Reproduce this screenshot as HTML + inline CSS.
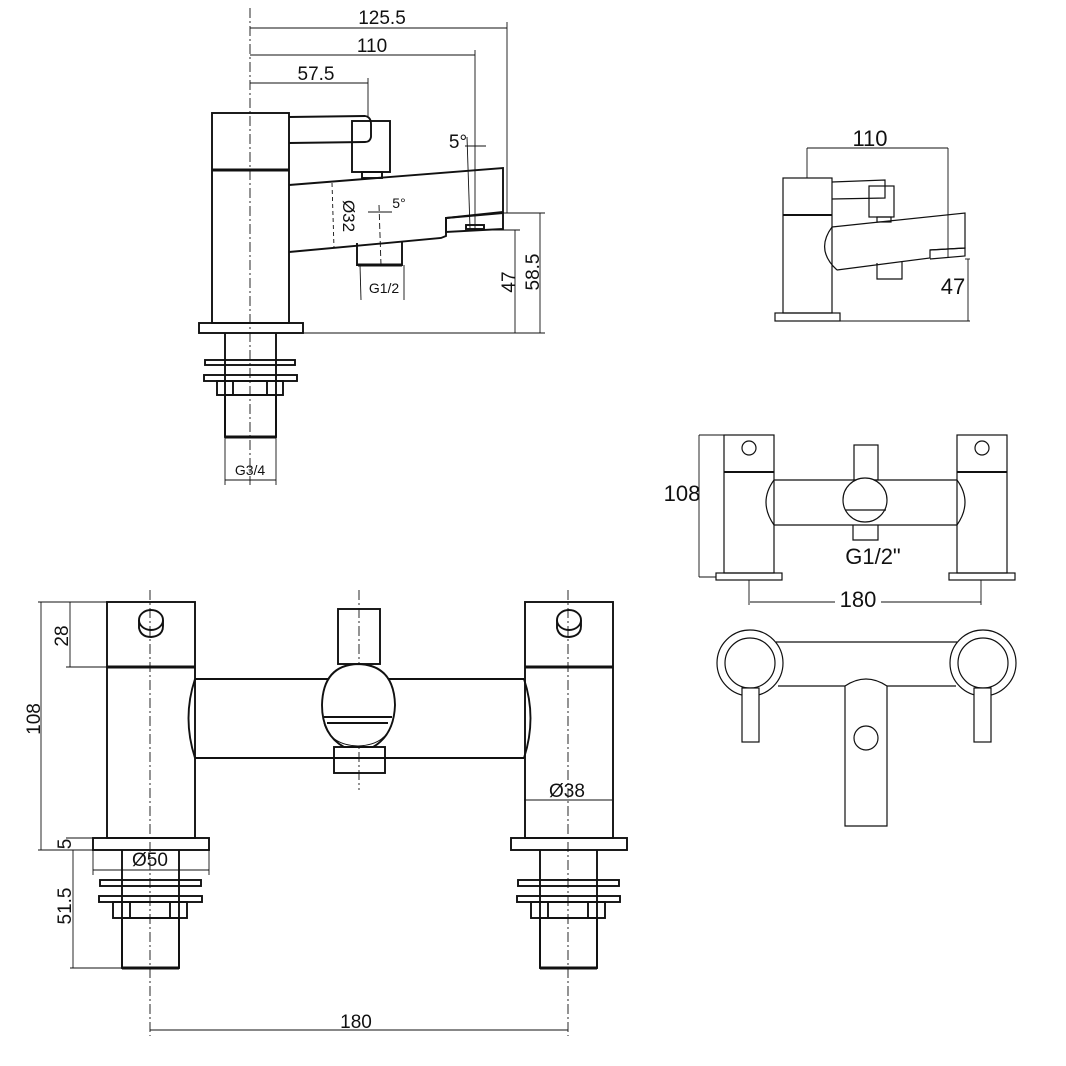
<!DOCTYPE html>
<html><head><meta charset="utf-8"><style>
html,body{margin:0;padding:0;background:#fff}
svg{display:block}
text{font-family:"Liberation Sans",sans-serif;fill:#111}
</style></head><body>
<svg width="1066" height="1066" viewBox="0 0 1066 1066" xmlns="http://www.w3.org/2000/svg">
<g fill="none" stroke="#111" stroke-width="1.9">
<!-- ===== TOP-LEFT SIDE VIEW ===== -->
<line x1="250" y1="8" x2="250" y2="485" stroke-dasharray="10,3,2,3" stroke-width="0.9"/>
<line x1="250" y1="28" x2="507" y2="28" stroke-width="0.9"/>
<line x1="507" y1="22" x2="507" y2="213" stroke-width="0.9"/>
<line x1="250" y1="55" x2="475" y2="55" stroke-width="0.9"/>
<line x1="475" y1="50" x2="475" y2="230" stroke-width="0.9"/>
<line x1="250" y1="83" x2="368" y2="83" stroke-width="0.9"/>
<line x1="368" y1="78" x2="368" y2="118" stroke-width="0.9"/>
<rect x="212" y="113" width="77" height="210"/>
<line x1="212" y1="170" x2="289" y2="170" stroke-width="3"/>
<rect x="199" y="323" width="104" height="10"/>
<path d="M289 117 L365 116 Q371 117 371 124 L371 137 Q370 142 365 142 L289 143"/>
<rect x="352" y="121" width="38" height="51"/>
<rect x="362" y="172" width="20" height="6"/>
<path d="M289 185 L503 168 L503 212 L446 218 L446 236 L441 238 L289 252"/>
<path d="M446 218 L503 213 L503 229 L446 232 Z"/>
<rect x="466" y="225" width="18" height="4"/>
<path d="M357 243 L357 265 L402 265 L402 241"/>
<line x1="358" y1="265" x2="402" y2="265" stroke-width="3"/>
<line x1="332" y1="183" x2="334" y2="248" stroke-dasharray="4,3" stroke-width="0.9"/>
<line x1="379" y1="205" x2="381" y2="265" stroke-dasharray="6,3" stroke-width="0.9"/>
<line x1="368" y1="212" x2="392" y2="212" stroke-width="0.9"/>
<line x1="467" y1="137" x2="470" y2="228" stroke-width="0.9"/>
<line x1="465" y1="146" x2="486" y2="146" stroke-width="0.9"/>
<line x1="360" y1="265" x2="361" y2="300" stroke-width="0.9"/>
<line x1="404" y1="265" x2="404" y2="300" stroke-width="0.9"/>
<line x1="303" y1="333" x2="545" y2="333" stroke-width="0.9"/>
<line x1="503" y1="213" x2="545" y2="213" stroke-width="0.9"/>
<line x1="485" y1="230" x2="520" y2="230" stroke-width="0.9"/>
<line x1="515" y1="230" x2="515" y2="333" stroke-width="0.9"/>
<line x1="540" y1="213" x2="540" y2="333" stroke-width="0.9"/>
<line x1="225" y1="333" x2="225" y2="437"/>
<line x1="276" y1="333" x2="276" y2="437"/>
<rect x="205" y="360" width="90" height="5"/>
<rect x="204" y="375" width="93" height="6"/>
<rect x="217" y="381" width="66" height="14"/>
<line x1="233" y1="381" x2="233" y2="395"/><line x1="267" y1="381" x2="267" y2="395"/>
<rect x="225" y="395" width="51" height="42"/>
<line x1="225" y1="437" x2="276" y2="437" stroke-width="3"/>
<line x1="225" y1="437" x2="225" y2="485" stroke-width="0.9"/>
<line x1="276" y1="437" x2="276" y2="485" stroke-width="0.9"/>
<line x1="225" y1="480" x2="276" y2="480" stroke-width="0.9"/>

<!-- ===== BOTTOM-LEFT FRONT VIEW ===== -->
<line x1="150" y1="590" x2="150" y2="1036" stroke-dasharray="10,3,2,3" stroke-width="0.9"/>
<line x1="568" y1="590" x2="568" y2="1036" stroke-dasharray="10,3,2,3" stroke-width="0.9"/>
<line x1="359" y1="590" x2="359" y2="790" stroke-dasharray="10,3,2,3" stroke-width="0.9"/>
<g id="tapL">
<rect x="107" y="602" width="88" height="236"/>
<line x1="107" y1="667" x2="195" y2="667" stroke-width="3"/>
<rect x="93" y="838" width="116" height="12"/>
<line x1="122" y1="850" x2="122" y2="968"/><line x1="179" y1="850" x2="179" y2="968"/>
<rect x="100" y="880" width="101" height="6"/>
<rect x="99" y="896" width="103" height="6"/>
<rect x="113" y="902" width="74" height="16"/>
<line x1="130" y1="902" x2="130" y2="918"/><line x1="170" y1="902" x2="170" y2="918"/>
<rect x="122" y="918" width="57" height="50"/>
<line x1="122" y1="968" x2="179" y2="968" stroke-width="3"/>
<ellipse cx="151" cy="620" rx="12" ry="10"/>
<path d="M139 620 L139 628 Q141 637 151 637 Q163 636 163 626 L163 620"/>
</g>
<use href="#tapL" transform="translate(418,0)"/>
<path d="M195 679 L524 679 M195 758 L524 758"/>
<path d="M195 679 Q182 718 195 758 M524 679 Q537 718 524 758"/>
<rect x="338" y="609" width="42" height="55"/>
<path d="M344 747 Q322 735 322 705 Q323 665 358 664 Q394 665 395 705 Q394 735 373 747 Z" fill="#fff"/>
<path d="M324 717 L392 717 M327 723 L388 723"/>
<path d="M324 723 Q330 745 358 746 Q386 745 392 723" stroke-width="1"/>
<rect x="334" y="747" width="51" height="26"/>
<line x1="38" y1="602" x2="107" y2="602" stroke-width="0.9"/>
<line x1="66" y1="667" x2="107" y2="667" stroke-width="0.9"/>
<line x1="38" y1="850" x2="93" y2="850" stroke-width="0.9"/>
<line x1="66" y1="838" x2="107" y2="838" stroke-width="0.9"/>
<line x1="70" y1="968" x2="122" y2="968" stroke-width="0.9"/>
<line x1="41" y1="602" x2="41" y2="850" stroke-width="0.9"/>
<line x1="70" y1="602" x2="70" y2="667" stroke-width="0.9"/>
<line x1="73" y1="850" x2="73" y2="968" stroke-width="0.9"/>
<line x1="93" y1="850" x2="93" y2="875" stroke-width="0.9"/>
<line x1="209" y1="850" x2="209" y2="875" stroke-width="0.9"/>
<line x1="93" y1="870" x2="209" y2="870" stroke-width="0.9"/>
<line x1="524" y1="800" x2="612" y2="800" stroke-width="0.9"/>
<line x1="150" y1="1030" x2="568" y2="1030" stroke-width="0.9"/>

<!-- ===== RIGHT SMALL SIDE VIEW ===== -->
<rect x="775" y="313" width="65" height="8" stroke-width="1.2"/>
<rect x="783" y="178" width="49" height="135" stroke-width="1.2"/>
<line x1="783" y1="215" x2="832" y2="215" stroke-width="2"/>
<path d="M832 182 L885 180 L885 198 L832 199" stroke-width="1.2"/>
<rect x="869" y="186" width="25" height="31" stroke-width="1.2"/>
<rect x="877" y="217" width="14" height="5" stroke-width="1.2"/>
<path d="M832 227 L965 213 L965 248 L930 250 L930 258 L837 270" stroke-width="1.2"/>
<path d="M832 227 Q815 250 837 270" stroke-width="1.2"/>
<path d="M930 250 L965 248 L965 256 L930 259" stroke-width="1.2"/>
<path d="M877 263 L877 279 L902 279 L902 261" stroke-width="1.2"/>
<line x1="807" y1="148" x2="948" y2="148" stroke-width="0.9"/>
<line x1="807" y1="148" x2="807" y2="178" stroke-width="0.9"/>
<line x1="948" y1="148" x2="948" y2="258" stroke-width="0.9"/>
<line x1="840" y1="321" x2="970" y2="321" stroke-width="0.9"/>
<line x1="965" y1="259" x2="970" y2="259" stroke-width="0.9"/>
<line x1="968" y1="259" x2="968" y2="321" stroke-width="0.9"/>

<!-- ===== RIGHT SMALL FRONT VIEW ===== -->
<g id="tapS" stroke-width="1.2">
<rect x="724" y="435" width="50" height="138"/>
<line x1="724" y1="472" x2="774" y2="472" stroke-width="2"/>
<circle cx="749" cy="448" r="7"/>
<rect x="716" y="573" width="66" height="7"/>
</g>
<use href="#tapS" transform="translate(233,0)"/>
<path d="M774 480 L957 480 M774 525 L957 525" stroke-width="1.2"/>
<path d="M774 480 Q758 502 774 525 M957 480 Q973 502 957 525" stroke-width="1.2"/>
<rect x="854" y="445" width="24" height="35" stroke-width="1.2"/>
<circle cx="865" cy="500" r="22" fill="#fff" stroke-width="1.2"/>
<line x1="845" y1="510" x2="886" y2="510" stroke-width="1.2"/>
<path d="M853 525 L853 540 L878 540 L878 525" stroke-width="1.2"/>
<line x1="699" y1="435" x2="724" y2="435" stroke-width="0.9"/>
<line x1="699" y1="435" x2="699" y2="577" stroke-width="0.9"/>
<line x1="699" y1="577" x2="716" y2="577" stroke-width="0.9"/>
<line x1="749" y1="580" x2="749" y2="605" stroke-width="0.9"/>
<line x1="981" y1="580" x2="981" y2="605" stroke-width="0.9"/>
<line x1="750" y1="602" x2="835" y2="602" stroke-width="0.9"/>
<line x1="881" y1="602" x2="981" y2="602" stroke-width="0.9"/>

<!-- ===== TOP VIEW ===== -->
<g stroke-width="1.2">
<circle cx="750" cy="663" r="33"/><circle cx="750" cy="663" r="25"/>
<circle cx="983" cy="663" r="33"/><circle cx="983" cy="663" r="25"/>
<line x1="776" y1="642" x2="957" y2="642"/>
<line x1="778" y1="686" x2="845" y2="686"/>
<line x1="887" y1="686" x2="956" y2="686"/>
<rect x="742" y="688" width="17" height="54" fill="#fff"/>
<rect x="974" y="688" width="17" height="54" fill="#fff"/>
<path d="M845 826 L845 686 Q866 672 887 686 L887 826 Z"/>
<circle cx="866" cy="738" r="12"/>
</g>
</g>

<!-- TEXT -->
<g font-size="19" text-anchor="middle">
<text x="382" y="24">125.5</text>
<text x="372" y="52">110</text>
<text x="316" y="80">57.5</text>
<text x="458" y="148">5°</text>
<text x="399" y="208" font-size="14">5°</text>
<text x="384" y="293" font-size="14">G1/2</text>
<text x="250" y="475" font-size="14">G3/4</text>
<text transform="translate(343,216) rotate(90)" font-size="17">Ø32</text>
<text transform="translate(515,282) rotate(-90)">47</text>
<text transform="translate(539,272) rotate(-90)">58.5</text>
<text transform="translate(40,719) rotate(-90)">108</text>
<text transform="translate(68,636) rotate(-90)">28</text>
<text transform="translate(71,844) rotate(-90)">5</text>
<text transform="translate(71,906) rotate(-90)">51.5</text>
<text x="150" y="866">Ø50</text>
<text x="567" y="797">Ø38</text>
<text x="356" y="1028">180</text>
<g font-size="22">
<text x="870" y="146">110</text>
<text x="953" y="294">47</text>
<text x="682" y="501">108</text>
<text x="873" y="564">G1/2"</text>
<text x="858" y="607">180</text>
</g>
</g>
</svg>
</body></html>
